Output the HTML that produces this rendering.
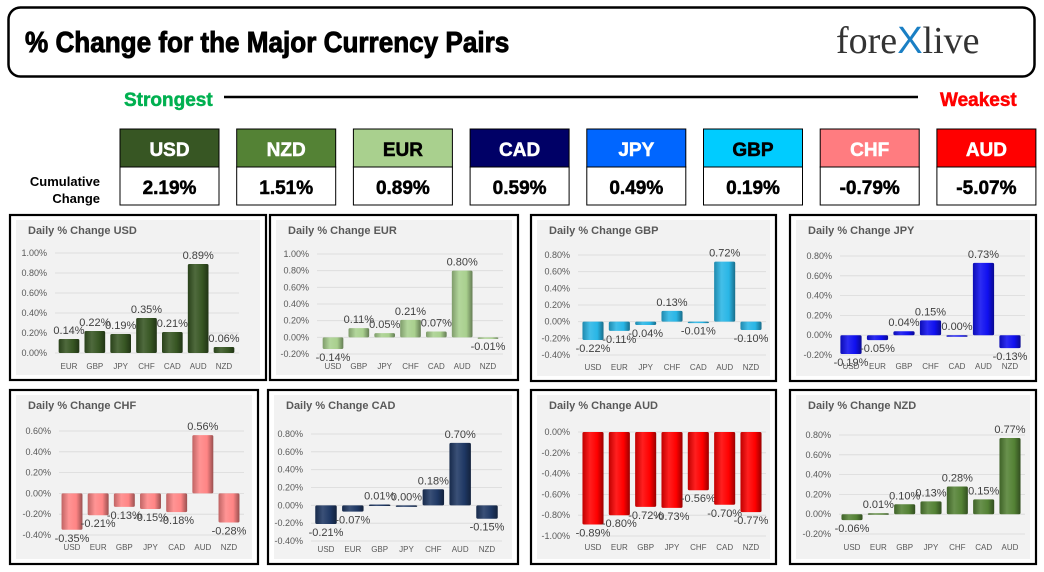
<!DOCTYPE html>
<html><head><meta charset="utf-8"><style>
html,body{margin:0;padding:0;background:#fff;}
svg{display:block;}
.imp{font-family:"Liberation Sans Narrow","Liberation Sans",sans-serif;font-weight:bold;}
.ax{font-family:"Liberation Sans",sans-serif;font-size:9px;fill:#595959;}
.cat{font-family:"Liberation Sans",sans-serif;font-size:8px;fill:#595959;}
.val{font-family:"Liberation Sans",sans-serif;font-size:11px;fill:#404040;}
.ttl{font-family:"Liberation Sans",sans-serif;font-size:11px;font-weight:bold;fill:#595959;}
</style></head><body>
<svg id="s" width="1044" height="572" viewBox="0 0 1044 572" xmlns="http://www.w3.org/2000/svg">
<rect x="8.5" y="7.5" width="1026" height="69" rx="12" fill="#fff" stroke="#000" stroke-width="2.5"/>
<text x="25" y="52" class="imp" font-size="29" fill="#000" stroke="#000" stroke-width="0.9" transform="translate(25 0) scale(0.9 1) translate(-25 0)">% Change for the Major Currency Pairs</text>
<text x="836" y="53" font-family="Liberation Serif,serif" font-size="38" fill="#333">fore<tspan font-family="Liberation Sans,sans-serif" fill="#1a7fc4">X</tspan>live</text>
<text x="124" y="106" class="imp" font-size="19" fill="#00b050" stroke="#00b050" stroke-width="0.5">Strongest</text>
<line x1="224" y1="97" x2="918" y2="97" stroke="#000" stroke-width="2.5"/>
<text x="940" y="106" class="imp" font-size="19" fill="#ff0000" stroke="#ff0000" stroke-width="0.5">Weakest</text>
<text x="100" y="186" class="imp" font-size="13" fill="#000" text-anchor="end">Cumulative</text>
<text x="100" y="203" class="imp" font-size="13" fill="#000" text-anchor="end">Change</text>
<g id="hdr"></g>
<g id="charts"></g>
</svg>
<script>
const ns="http://www.w3.org/2000/svg";
function mk(tag,attrs,parent,txt){const e=document.createElementNS(ns,tag);for(const k in attrs)e.setAttribute(k,attrs[k]);if(txt!==undefined)e.textContent=txt;parent.appendChild(e);return e;}
const svg=document.getElementById('s');
const defs=mk('defs',{},svg);

const hdrCurrencies=["USD","NZD","EUR","CAD","JPY","GBP","CHF","AUD"];
const hdrValues=[2.19,1.51,0.89,0.59,0.49,0.19,-0.79,-5.07];
const hdrColors=["#375623","#548235","#a9d08e","#000066","#0066ff","#00ccff","#ff7c80","#ff0000"];
const hdrText=["#fff","#fff","#000","#fff","#fff","#000","#fff","#fff"];
const hdr=document.getElementById('hdr');
hdrCurrencies.forEach((c,i)=>{
  const x=120+i*116.7;
  const g=mk('g',{},hdr);
  
  
  mk('rect',{x:x,y:129,width:99,height:38,fill:hdrColors[i],stroke:'#000','stroke-width':1},g);
  mk('rect',{x:x,y:167,width:99,height:38,fill:'#fff',stroke:'#000','stroke-width':1},g);
  mk('text',{x:x+49.5,y:156,'text-anchor':'middle',class:'imp','font-size':19,fill:hdrText[i],stroke:hdrText[i],'stroke-width':0.5},g,c);
  mk('text',{x:x+49.5,y:194,'text-anchor':'middle',class:'imp','font-size':19,fill:'#000',stroke:'#000','stroke-width':0.5},g,hdrValues[i].toFixed(2)+'%');
});

const usdCats=["EUR","GBP","JPY","CHF","CAD","AUD","NZD"];
const usdVals=[0.14,0.22,0.19,0.35,0.21,0.89,0.06];
const eurCats=["USD","GBP","JPY","CHF","CAD","AUD","NZD"];
const eurVals=[-0.14,0.11,0.05,0.21,0.07,0.80,-0.01];
const gbpCats=["USD","EUR","JPY","CHF","CAD","AUD","NZD"];
const gbpVals=[-0.22,-0.11,-0.04,0.13,-0.01,0.72,-0.10];
const jpyCats=["USD","EUR","GBP","CHF","CAD","AUD","NZD"];
const jpyVals=[-0.19,-0.05,0.04,0.15,0.00,0.73,-0.13];
const chfCats=["USD","EUR","GBP","JPY","CAD","AUD","NZD"];
const chfVals=[-0.35,-0.21,-0.13,-0.15,-0.18,0.56,-0.28];
const cadCats=["USD","EUR","GBP","JPY","CHF","AUD","NZD"];
const cadVals=[-0.21,-0.07,0.01,0.00,0.18,0.70,-0.15];
const audCats=["USD","EUR","GBP","JPY","CHF","CAD","NZD"];
const audVals=[-0.89,-0.80,-0.72,-0.73,-0.56,-0.70,-0.77];
const nzdCats=["USD","EUR","GBP","JPY","CHF","CAD","AUD"];
const nzdVals=[-0.06,0.01,0.10,0.13,0.28,0.15,0.77];
const usdTicks=[0,0.2,0.4,0.6,0.8,1.0];
const eurTicks=[-0.2,0,0.2,0.4,0.6,0.8,1.0];
const gbpTicks=[-0.4,-0.2,0,0.2,0.4,0.6,0.8];
const jpyTicks=[-0.2,0,0.2,0.4,0.6,0.8];
const chfTicks=[-0.4,-0.2,0,0.2,0.4,0.6];
const cadTicks=[-0.4,-0.2,0,0.2,0.4,0.6,0.8];
const audTicks=[-1.0,-0.8,-0.6,-0.4,-0.2,0];
const nzdTicks=[-0.2,0,0.2,0.4,0.6,0.8];

const panels=[
 {name:'USD',cats:usdCats,vals:usdVals,ticks:usdTicks,color:'#375623',box:[10,215,256,165],yTop:253,yBot:353,x0:69,x1:224,catY:369,axX:47},
 {name:'EUR',cats:eurCats,vals:eurVals,ticks:eurTicks,color:'#a9d08e',box:[270,215,248,165],yTop:254,yBot:354,x0:333,x1:488,catY:369,axX:309},
 {name:'GBP',cats:gbpCats,vals:gbpVals,ticks:gbpTicks,color:'#29b6e6',box:[531,215,245,166],yTop:255,yBot:355,x0:593,x1:751,catY:370,axX:570},
 {name:'JPY',cats:jpyCats,vals:jpyVals,ticks:jpyTicks,color:'#1010f0',box:[790,215,246,166],yTop:256,yBot:355,x0:851,x1:1010,catY:369,axX:832},
 {name:'CHF',cats:chfCats,vals:chfVals,ticks:chfTicks,color:'#ff8585',box:[10,390,248,174],yTop:431,yBot:535,x0:72,x1:229,catY:550,axX:51},
 {name:'CAD',cats:cadCats,vals:cadVals,ticks:cadTicks,color:'#1f3864',box:[268,390,250,174],yTop:434,yBot:541,x0:326,x1:487,catY:552,axX:303},
 {name:'AUD',cats:audCats,vals:audVals,ticks:audTicks,color:'#ff0000',box:[531,390,245,174],yTop:432,yBot:536,x0:593,x1:751,catY:550,axX:570},
 {name:'NZD',cats:nzdCats,vals:nzdVals,ticks:nzdTicks,color:'#548235',box:[790,390,246,174],yTop:435,yBot:534,x0:852,x1:1010,catY:550,axX:831}
];
function shade(hex,f){const n=parseInt(hex.slice(1),16);let r=n>>16,g=(n>>8)&255,b=n&255;
 const m=v=>Math.max(0,Math.min(255,Math.round(f>1?v+(255-v)*(f-1):v*f)));return `rgb(${m(r)},${m(g)},${m(b)})`;}
const charts=document.getElementById('charts');
panels.forEach((p,pi)=>{
  const g=mk('g',{},charts);
  
  
  const [bx,by,bw,bh]=p.box;
  mk('rect',{x:bx,y:by,width:bw,height:bh,fill:'#fff',stroke:'#000','stroke-width':2.2},g);
  mk('rect',{x:bx+6,y:by+5,width:bw-12,height:bh-10,fill:'#f2f2f2'},g);
  const t=mk('text',{x:bx+18,y:by+19,class:'ttl'},g,'Daily % Change '+p.name);
  
  
  const gid='grad'+pi;
  const lg=mk('linearGradient',{id:gid,x1:0,y1:0,x2:1,y2:0},defs);
  mk('stop',{offset:'0','stop-color':shade(p.color,0.75)},lg);
  mk('stop',{offset:'0.35','stop-color':shade(p.color,1.12)},lg);
  mk('stop',{offset:'0.7','stop-color':p.color},lg);
  mk('stop',{offset:'1','stop-color':shade(p.color,0.6)},lg);
  const tmin=p.ticks[0],tmax=p.ticks[p.ticks.length-1];
  const y=v=>p.yBot-(v-tmin)/(tmax-tmin)*(p.yBot-p.yTop);
  const step=(p.x1-p.x0)/(p.cats.length-1);
  const x=i=>p.x0+i*step;
  p.ticks.forEach(tv=>{
    mk('line',{x1:p.axX+8,x2:p.x1+15,y1:y(tv),y2:y(tv),stroke:'#d9d9d9','stroke-width':0.8},g);
    const tl=mk('text',{x:p.axX,y:y(tv)+3,class:'ax','text-anchor':'end'},g,tv.toFixed(2)+'%');
    
    
  });
  const bwid=step*0.8;
  p.vals.forEach((v,i)=>{
    const y0=y(0),yv=y(v);
    const top=Math.min(y0,yv),h=Math.max(1.5,Math.abs(yv-y0));
    const r=mk('rect',{x:x(i)-bwid/2,y:top,width:bwid,height:h,fill:`url(#${gid})`,rx:1.5},g);
    
    
    const ly=v>=0?yv-5:yv+12;
    const vl=mk('text',{x:x(i),y:ly,class:'val','text-anchor':'middle'},g,v.toFixed(2)+'%');
    
    
    const cl=mk('text',{x:x(i),y:p.catY,class:'cat','text-anchor':'middle'},g,p.cats[i]);
    
    
  });
});
</script>
</body></html>
